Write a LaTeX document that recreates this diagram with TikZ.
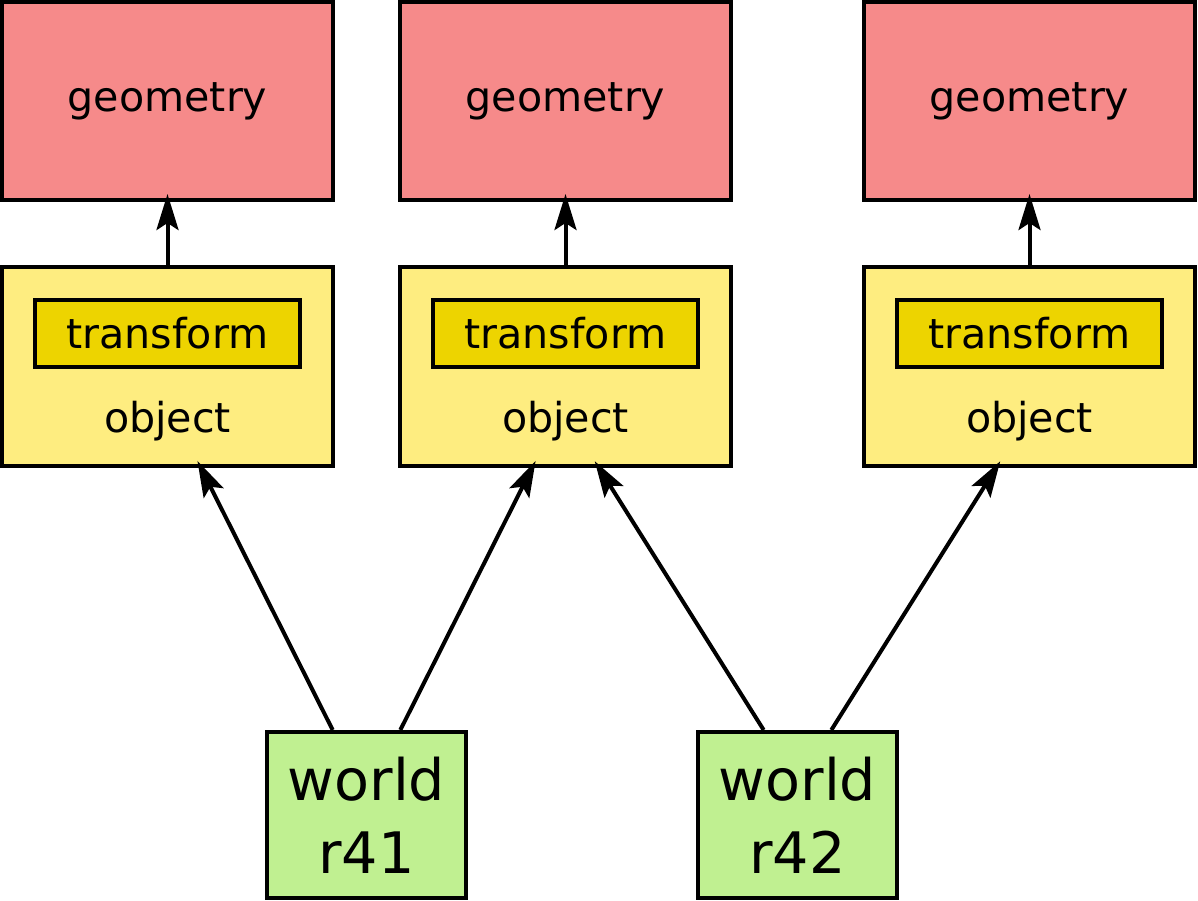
\documentclass[tikz,border=0pt]{standalone}
\usepackage{fontspec}
\setmainfont{DejaVu Sans}
\usetikzlibrary{arrows.meta,calc}
\definecolor{geored}{RGB}{246,138,138}
\definecolor{objyellow}{RGB}{254,237,128}
\definecolor{tfyellow}{RGB}{237,212,0}
\definecolor{worldgreen}{RGB}{192,240,145}
\begin{document}
\begin{tikzpicture}[x=0.5pt,y=-0.5pt,>={Stealth[length=18pt,width=11pt,inset=3.5pt]},line width=2pt,font=\fontsize{20.6}{24}\selectfont,
  geobox/.style={draw,fill=geored,minimum width=165.5pt,minimum height=99pt,inner sep=0pt},
  objbox/.style={draw,fill=objyellow,minimum width=165.5pt,minimum height=99.5pt,inner sep=0pt},
  tfbox/.style={draw,fill=tfyellow,minimum width=132.5pt,minimum height=33.5pt,inner sep=0pt},
  worldbox/.style={draw,fill=worldgreen,minimum width=99.5pt,minimum height=83pt,inner sep=0pt,align=center,font=\fontsize{28.6}{36.5}\selectfont},
  link/.style={->,shorten >=-4pt}]
\useasboundingbox (0,0) rectangle (1198,900);
% geometry row
\node[geobox] (geo1) at (167.5,101) {geometry}; \node[geobox] (geo2) at (565.5,101) {geometry}; \node[geobox] (geo3) at (1029.5,101) {geometry};
% objects with their transforms
\node[objbox] (obj1) at (167.5,366.5) {}; \node[objbox] (obj2) at (565.5,366.5) {}; \node[objbox] (obj3) at (1029.5,366.5) {};
\node[tfbox] (tf1) at (167.5,333.5) {transform}; \node[tfbox] (tf2) at (565.5,333.5) {transform}; \node[tfbox] (tf3) at (1029.5,333.5) {transform};
\node (lbl1) at (167.5,421) {object}; \node (lbl2) at (565.5,421) {object}; \node (lbl3) at (1029.5,421) {object};
% worlds
\node[worldbox] (w41) at (366.5,815) {world\\r41}; \node[worldbox] (w42) at (797.5,815) {world\\r42};
\draw[link] (obj1.north) -- (geo1.south); \draw[link] (obj2.north) -- (geo2.south); \draw[link] (obj3.north) -- (geo3.south);
\draw[link] ($(w41.north west)!1/3!(w41.north east)$) -- ($(obj1.south west)!0.6!(obj1.south east)$);
\draw[link] ($(w41.north west)!2/3!(w41.north east)$) -- ($(obj2.south west)!0.4!(obj2.south east)$);
\draw[link] ($(w42.north west)!1/3!(w42.north east)$) -- ($(obj2.south west)!0.6!(obj2.south east)$);
\draw[link] ($(w42.north west)!2/3!(w42.north east)$) -- ($(obj3.south west)!0.4!(obj3.south east)$);
\end{tikzpicture}
\end{document}
